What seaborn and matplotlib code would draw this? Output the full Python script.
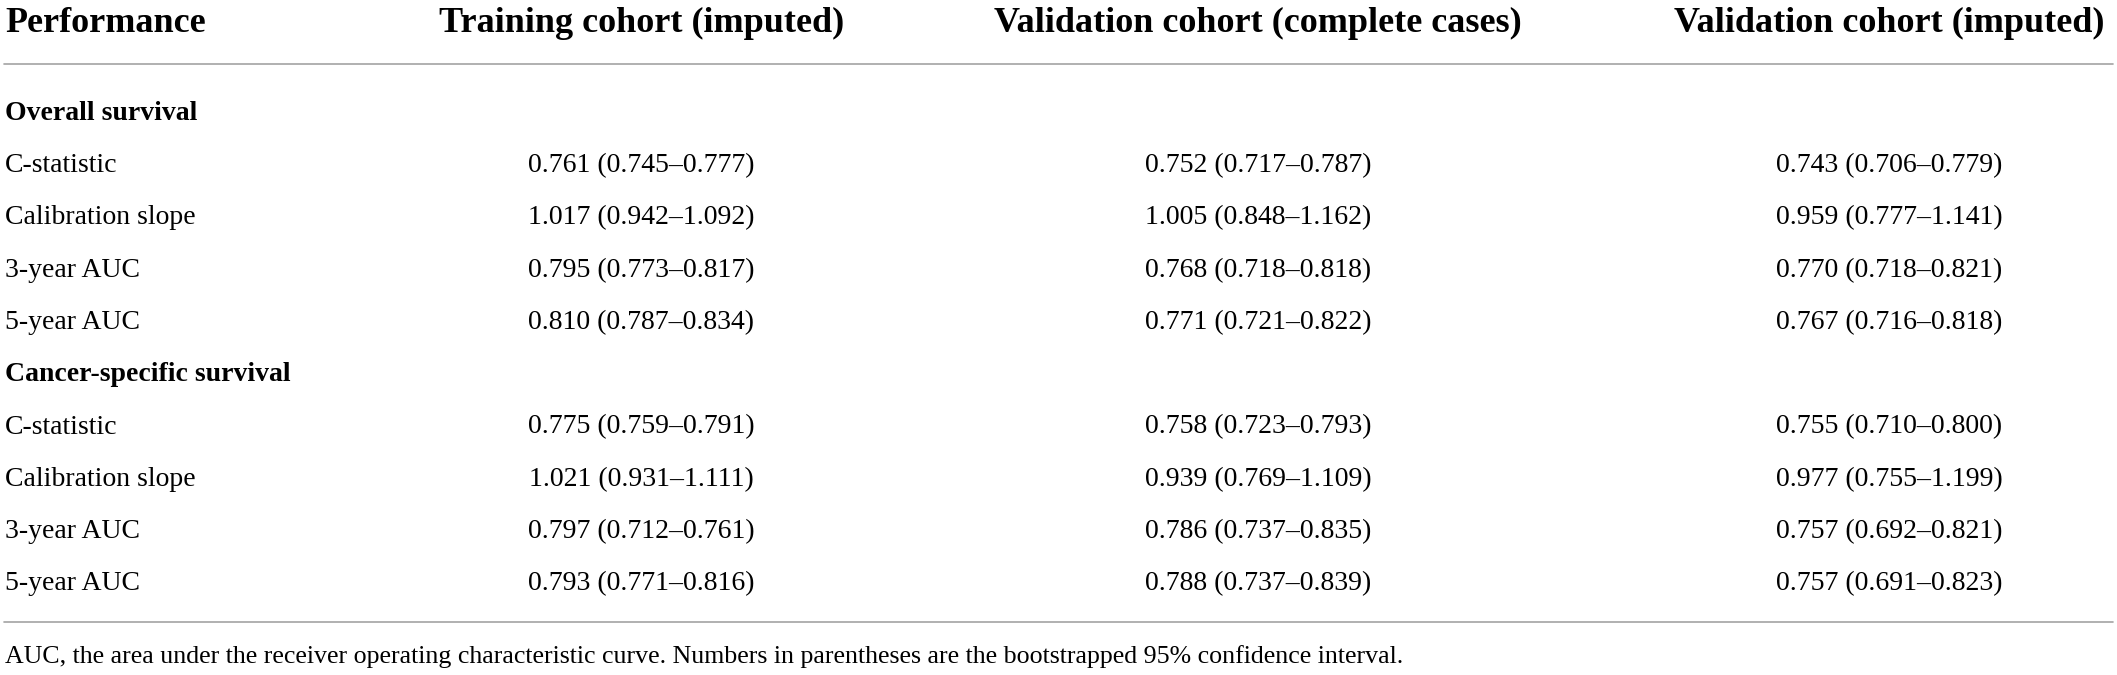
import matplotlib
matplotlib.use("Agg")
import matplotlib.pyplot as plt
import seaborn as sns

# table content
columns = ["Performance", "Training cohort (imputed)",
           "Validation cohort (complete cases)", "Validation cohort (imputed)"]
groups = ["Overall survival", "Cancer-specific survival"]
metrics = ["C-statistic", "Calibration slope", "3-year AUC", "5-year AUC"]

# estimate, lower, upper -- OS rows first, then CSS rows
training_est = [0.761, 1.017, 0.795, 0.810, 0.775, 1.021, 0.797, 0.793]
training_lo = [0.745, 0.942, 0.773, 0.787, 0.759, 0.931, 0.712, 0.771]
training_hi = [0.777, 1.092, 0.817, 0.834, 0.791, 1.111, 0.761, 0.816]

complete_est = [0.752, 1.005, 0.768, 0.771, 0.758, 0.939, 0.786, 0.788]
complete_lo = [0.717, 0.848, 0.718, 0.721, 0.723, 0.769, 0.737, 0.737]
complete_hi = [0.787, 1.162, 0.818, 0.822, 0.793, 1.109, 0.835, 0.839]

imputed_est = [0.743, 0.959, 0.770, 0.767, 0.755, 0.977, 0.757, 0.757]
imputed_lo = [0.706, 0.777, 0.718, 0.716, 0.710, 0.755, 0.692, 0.691]
imputed_hi = [0.779, 1.141, 0.821, 0.818, 0.800, 1.199, 0.821, 0.823]

footnote = ("AUC, the area under the receiver operating characteristic curve. "
            "Numbers in parentheses are the bootstrapped 95% confidence interval.")

sns.set_theme(style="white")
plt.rcParams["font.family"] = ["Liberation Serif", "DejaVu Serif"]

W, H = 2117, 675
fig = plt.figure(figsize=(W / 100, H / 100), dpi=100)
ax = fig.add_axes([0, 0, 1, 1])
ax.set_xlim(0, W)
ax.set_ylim(H, 0)
ax.axis("off")

head_x = [5, 642, 1258, 1889]
data_x = [641, 1258, 1889]
body_fs = 20
head_fs = 26
line_col = "#a3a3a3"


def fmt(e, lo, hi):
    return f"{e:.3f} ({lo:.3f}\u2013{hi:.3f})"


# header
for i, c in enumerate(columns):
    ax.text(head_x[i], 32, c, fontsize=head_fs, fontweight="bold",
            ha="left" if i == 0 else "center", va="baseline", color="black")
ax.axhline(64, xmin=0.002, xmax=0.998, color=line_col, lw=1.2)

series = [(training_est, training_lo, training_hi),
          (complete_est, complete_lo, complete_hi),
          (imputed_est, imputed_lo, imputed_hi)]

y0, step = 120, 52.25
row = 0
for g, group in enumerate(groups):
    ax.text(5, y0 + row * step, group, fontsize=body_fs, fontweight="bold",
            ha="left", va="baseline", color="black")
    row += 1
    for m, metric in enumerate(metrics):
        k = g * len(metrics) + m
        y = y0 + row * step
        ax.text(5, y, metric, fontsize=body_fs, ha="left", va="baseline", color="black")
        for j, (est, lo, hi) in enumerate(series):
            ax.text(data_x[j], y, fmt(est[k], lo[k], hi[k]), fontsize=body_fs,
                    ha="center", va="baseline", color="black")
        row += 1

ax.axhline(622, xmin=0.002, xmax=0.998, color=line_col, lw=1.2)
ax.text(5, 663, footnote, fontsize=18.6, ha="left", va="baseline", color="black")

fig.savefig("out.png", dpi=100, facecolor="white")
